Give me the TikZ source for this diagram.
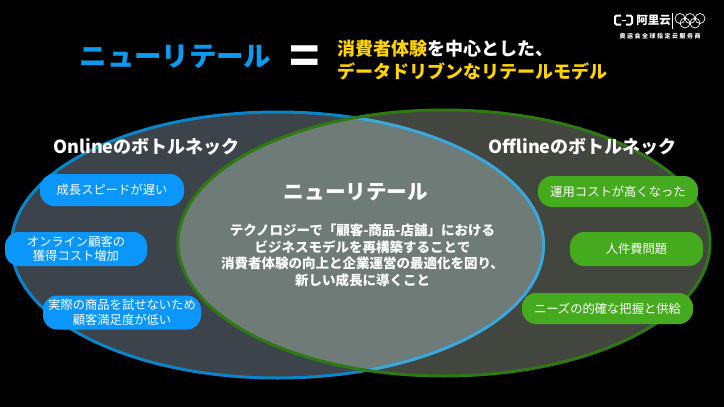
\documentclass[tikz,border=0pt]{standalone}
\usepackage{fontspec}
\setmainfont{Noto Sans CJK JP}
\newfontfamily\logofont[LetterSpace=25]{Noto Sans CJK SC}
\newfontfamily\logomark{Noto Sans CJK SC}
\definecolor{blueline}{HTML}{0A85C8}
\definecolor{bluelight}{HTML}{3FA6D6}
\definecolor{greenline}{HTML}{2E7A12}
\definecolor{leftfill}{HTML}{3C434A}
\definecolor{rightfill}{HTML}{42463F}
\definecolor{lensfill}{HTML}{6F7B76}
\definecolor{bluepill}{HTML}{0A96FA}
\definecolor{greenpill}{HTML}{46AA1E}
\definecolor{titleblue}{HTML}{0A9BF0}
\definecolor{titlegold}{HTML}{FFD200}
\tikzset{
 pill/.style={rounded corners=14pt, inner sep=0, align=center, text=white, font=\fontsize{12.3}{14.5}\selectfont},
 heading/.style={text=white, inner sep=0, font=\fontsize{18}{22}\selectfont\bfseries},
}
\def\leftell{(277.5,245) ellipse [x radius=266,y radius=133]}
\def\rightell{(444,243) ellipse [x radius=266,y radius=133]}
\begin{document}
\begin{tikzpicture} [x=1pt,y=-1pt]
\fill[black] (0,0) rectangle (724,407);
\useasboundingbox (0,0) rectangle (724,407);
\fill[leftfill] \leftell;
\fill[rightfill] \rightell;
\begin{scope}
 \clip \leftell;
 \fill[lensfill] \rightell;
\end{scope}
\draw[blueline, line width=3pt] \leftell;
\begin{scope}
 \clip \rightell;
 \draw[bluelight, line width=3pt] \leftell;
\end{scope}
\draw[greenline, line width=3pt] \rightell;

\node[text=titleblue, inner sep=0, font=\fontsize{27.4}{30}\selectfont\bfseries] (title) at (175.5,57) {ニューリテール};
\node[text=white, inner sep=0, font=\fontsize{50}{50}\selectfont\bfseries] (equal) at (304.5,60) {=};
\node[anchor=west, inner sep=0, text=titlegold, font=\fontsize{18}{22}\selectfont\bfseries] (claim1) at (337,49) {消費者体験\textcolor{white}{を中心とした、}};
\node[anchor=west, inner sep=0, text=titlegold, font=\fontsize{18}{22}\selectfont\bfseries] (claim2) at (337,71) {データドリブンなリテールモデル};

\node[heading] (online) at (146.5,147) {Onlineのボトルネック};
\node[heading] (offline) at (582.5,147) {Offlineのボトルネック};

\node[pill, fill=bluepill, minimum width=144pt, minimum height=32pt] (slow) at (112,190) {成長スピードが遅い};
\node[pill, fill=bluepill, minimum width=142pt, minimum height=34pt] (cost) at (76,249) {オンライン顧客の\\獲得コスト増加};
\node[pill, fill=bluepill, minimum width=158pt, minimum height=34pt] (trial) at (122,312.5) {実際の商品を試せないため\\顧客満足度が低い};
\node[pill, fill=greenpill, minimum width=160pt, minimum height=31pt] (ops) at (618,191.5) {運用コストが高くなった};
\node[pill, fill=greenpill, minimum width=133pt, minimum height=34pt] (labor) at (636.5,249) {人件費問題};
\node[pill, fill=greenpill, minimum width=171pt, minimum height=31pt] (needs) at (607.5,308.5) {ニーズの的確な把握と供給};

\node[text=white, inner sep=0, font=\fontsize{20.6}{24}\selectfont\bfseries] (center) at (356,192) {ニューリテール};
\node[text=white, inner sep=0, align=center, font=\fontsize{13.5}{16.6}\selectfont\bfseries] (body) at (362.5,255.5) {テクノロジーで「顧客-商品-店舗」における\\ビジネスモデルを再構築することで\\消費者体験の向上と企業運営の最適化を図り、\\新しい成長に導くこと};

% logo
\draw[white, line width=2pt, rounded corners=1.5pt] (621,15.5) -- (615,15.5) -- (615,24.5) -- (621,24.5);
\draw[white, line width=2pt, rounded corners=1.5pt] (626,15.5) -- (632,15.5) -- (632,24.5) -- (626,24.5);
\draw[white, line width=.8pt] (621.5,20) -- (625.5,20);
\node[text=white, inner sep=0, font=\fontsize{11.5}{12}\logomark\selectfont\bfseries] (brand) at (653.5,20) {阿里云};
\draw[white, line width=.5pt] (672,13) -- (672,29);
\foreach \x in {680,690,700} {
 \draw[white, line width=.7pt] (\x,18.5) circle (5);
}
\foreach \x in {685,695} {
 \draw[white, line width=.7pt] (\x,23) circle (5);
}
\node[text=white, inner sep=0, font=\fontsize{6}{7}\logofont\selectfont\bfseries] (partner) at (660,36) {奥运会全球指定云服务商};
\end{tikzpicture}
\end{document}
